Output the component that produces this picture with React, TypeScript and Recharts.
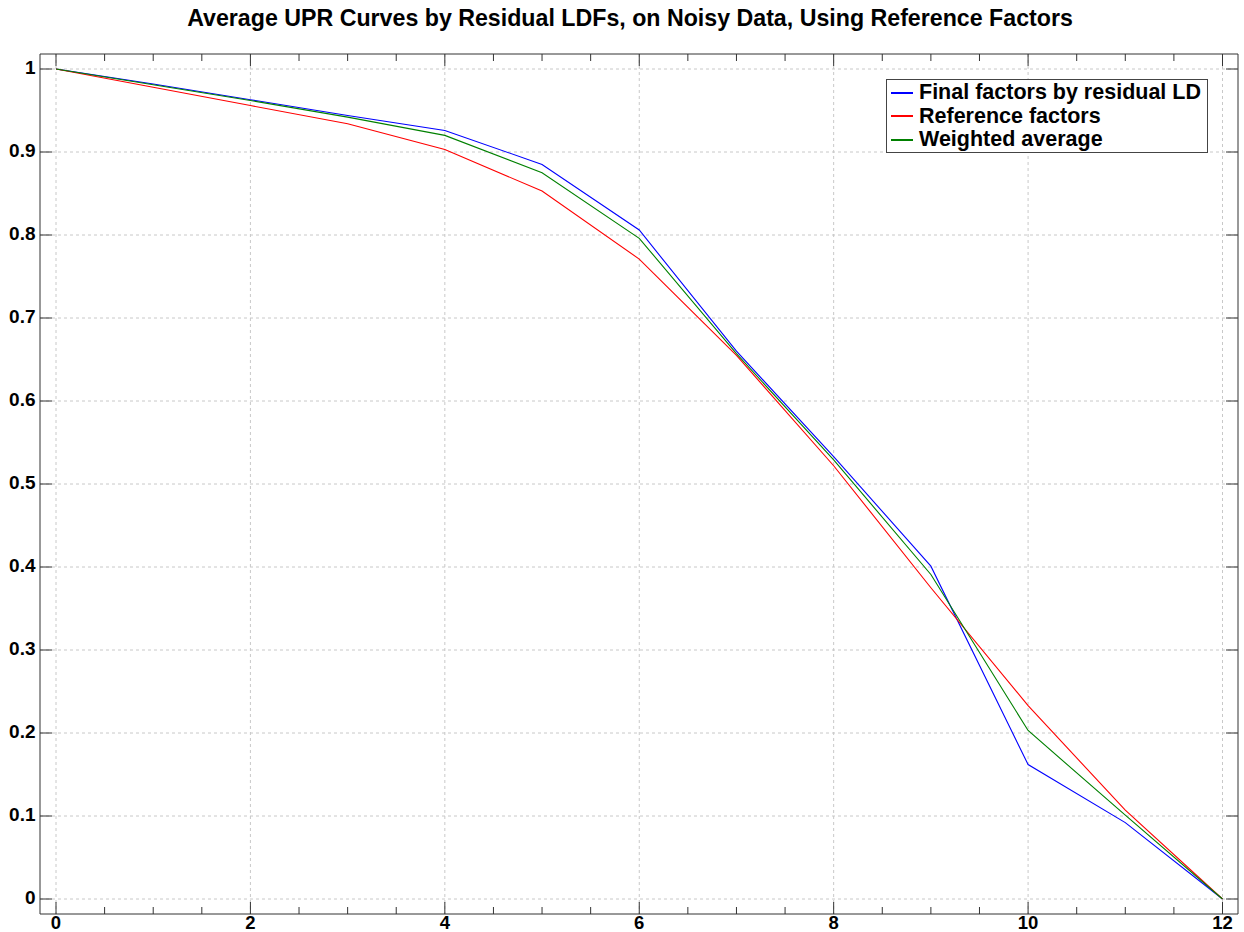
import React from "react";
import {
  LineChart,
  Line,
  XAxis,
  YAxis,
  CartesianGrid,
  Legend,
} from "recharts";

// months remaining (0..12)
const X_VALUES = [0, 1, 2, 3, 4, 5, 6, 7, 8, 9, 10, 11, 12];

const FINAL_FACTORS = [1, 0.982, 0.963, 0.944, 0.926, 0.885, 0.806, 0.66, 0.533, 0.401, 0.162, 0.092, 0];
const REFERENCE_FACTORS = [1, 0.978, 0.956, 0.934, 0.903, 0.853, 0.771, 0.655, 0.522, 0.375, 0.233, 0.107, 0];
const WEIGHTED_AVERAGE = [1, 0.981, 0.962, 0.942, 0.92, 0.875, 0.796, 0.657, 0.529, 0.391, 0.203, 0.101, 0];

const X_TICKS = [0, 0.5, 1, 1.5, 2, 2.5, 3, 3.5, 4, 4.5, 5, 5.5, 6, 6.5, 7, 7.5, 8, 8.5, 9, 9.5, 10, 10.5, 11, 11.5, 12];
const X_GRID = [0, 2, 4, 6, 8, 10, 12];
const Y_TICKS = [0, 0.1, 0.2, 0.3, 0.4, 0.5, 0.6, 0.7, 0.8, 0.9, 1];

const TITLE = "Average UPR Curves by Residual LDFs, on Noisy Data, Using Reference Factors";

const SERIES = [
  { key: "final", name: "Final factors by residual LD", color: "#0000ff" },
  { key: "reference", name: "Reference factors", color: "#ff0000" },
  { key: "weighted", name: "Weighted average", color: "#008000" },
];

const data = X_VALUES.map((x, i) => ({
  x,
  final: FINAL_FACTORS[i],
  reference: REFERENCE_FACTORS[i],
  weighted: WEIGHTED_AVERAGE[i],
}));

const FONT = "'Liberation Sans', Arial, Helvetica, sans-serif";
const AXIS = "#333333";

const isMajorX = (v: number) => v % 2 === 0;

const BottomTick = ({ x, y, payload }: any) => {
  const major = isMajorX(payload.value);
  return (
    <g>
      <line x1={x} x2={x} y1={y} y2={y - (major ? 12 : 7)} stroke={AXIS} />
      {major && (
        <text x={x} y={y + 15} textAnchor="middle" fontSize={18.5} fontWeight="bold" fontFamily={FONT} fill="#000">
          {payload.value}
        </text>
      )}
    </g>
  );
};

const TopTick = ({ x, y, payload }: any) => {
  const major = isMajorX(payload.value);
  return <line x1={x} x2={x} y1={y} y2={y + (major ? 12 : 7)} stroke={AXIS} />;
};

const LeftTick = ({ x, y, payload }: any) => (
  <g>
    <line x1={x} x2={x + 12} y1={y} y2={y} stroke={AXIS} />
    <text x={x - 4.5} y={y + 5} textAnchor="end" fontSize={19} fontWeight="bold" fontFamily={FONT} fill="#000">
      {payload.value}
    </text>
  </g>
);

const RightTick = ({ x, y }: any) => <line x1={x} x2={x - 12} y1={y} y2={y} stroke={AXIS} />;

const LegendBox = () => (
  <div
    style={{
      border: "1px solid #444",
      background: "#fff",
      padding: "1px 6px 0 4px",
      fontFamily: FONT,
      fontWeight: "bold",
      fontSize: 21.5,
      color: "#000",
    }}
  >
    {SERIES.map((s) => (
      <div key={s.key} style={{ display: "flex", alignItems: "center", height: 23.5, whiteSpace: "nowrap" }}>
        <span style={{ display: "inline-block", width: 22, height: 2, background: s.color, marginRight: 6 }} />
        <span>{s.name}</span>
      </div>
    ))}
  </div>
);

export default function App() {
  return (
    <div style={{ position: "absolute", left: 0, top: 0, width: 1244, height: 932, background: "#fff" }}>
      <svg width={1244} height={40} style={{ position: "absolute", left: 0, top: 0 }}>
        <text x={630} y={26} textAnchor="middle" fontSize={23.2} fontWeight="bold" fontFamily={FONT} fill="#000">
          {TITLE}
        </text>
      </svg>
      <LineChart width={1244} height={932} data={data} margin={{ top: 53, right: 5, left: 0, bottom: 0 }}>
        <CartesianGrid stroke="#c8c8c8" strokeDasharray="3 3" verticalValues={X_GRID} horizontalValues={Y_TICKS} />
        <XAxis
          dataKey="x"
          type="number"
          domain={[0, 12]}
          ticks={X_TICKS}
          interval={0}
          height={18}
          padding={{ left: 16, right: 15.5 }}
          axisLine={{ stroke: AXIS }}
          tickLine={false}
          tickSize={0}
          tickMargin={0}
          tick={<BottomTick />}
        />
        <XAxis
          xAxisId="top"
          orientation="top"
          dataKey="x"
          type="number"
          domain={[0, 12]}
          ticks={X_TICKS}
          interval={0}
          height={1}
          padding={{ left: 16, right: 15.5 }}
          axisLine={{ stroke: AXIS }}
          tickLine={false}
          tickSize={0}
          tickMargin={0}
          tick={<TopTick />}
        />
        <YAxis
          type="number"
          domain={[0, 1]}
          ticks={Y_TICKS}
          interval={0}
          width={40}
          padding={{ top: 15, bottom: 15 }}
          axisLine={{ stroke: AXIS }}
          tickLine={false}
          tickSize={0}
          tickMargin={0}
          tick={<LeftTick />}
        />
        <YAxis
          yAxisId="right"
          orientation="right"
          type="number"
          domain={[0, 1]}
          ticks={Y_TICKS}
          interval={0}
          width={1}
          padding={{ top: 15, bottom: 15 }}
          axisLine={{ stroke: AXIS }}
          tickLine={false}
          tickSize={0}
          tickMargin={0}
          tick={<RightTick />}
        />
        <Legend
          layout="horizontal"
          verticalAlign="middle"
          align="center"
          content={<LegendBox />}
          wrapperStyle={{ left: 886, top: 79, width: "auto", height: "auto" }}
        />
        <Line type="linear" dataKey="final" name={SERIES[0].name} stroke={SERIES[0].color} strokeWidth={1.1} dot={false} isAnimationActive={false} />
        <Line type="linear" dataKey="reference" name={SERIES[1].name} stroke={SERIES[1].color} strokeWidth={1.1} dot={false} isAnimationActive={false} />
        <Line
          type="linear"
          dataKey="weighted"
          name={SERIES[2].name}
          xAxisId="top"
          yAxisId="right"
          stroke={SERIES[2].color}
          strokeWidth={1.1}
          dot={false}
          isAnimationActive={false}
        />
      </LineChart>
    </div>
  );
}
